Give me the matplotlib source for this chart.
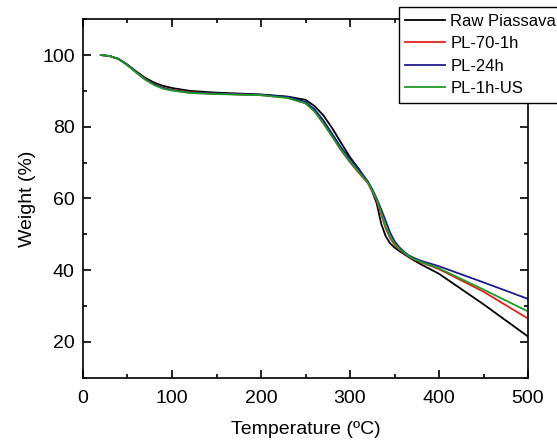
import numpy as np
import matplotlib.pyplot as plt

plt.rcParams['font.family'] = ['Liberation Sans', 'DejaVu Sans']

# TGA curves
temp = [20, 30, 40, 50, 60, 70, 80, 90, 100, 120, 150, 200, 230, 250, 260, 270, 280,
        290, 300, 310, 320, 325, 330, 335, 340, 345, 350, 355, 360, 365, 370, 380,
        400, 450, 500]

raw = [100, 99.7, 98.9, 97.3, 95.4, 93.6, 92.3, 91.4, 90.8, 90.0, 89.5, 89.0, 88.4, 87.5, 85.8,
       83.2, 79.6, 75.5, 71.5, 68.2, 64.5, 62.0, 58.6, 53.0, 49.5, 47.5, 46.3, 45.4, 44.6,
       43.8, 43.0, 41.6, 39.0, 30.5, 21.5]
pl70 = [100, 99.7, 98.9, 97.2, 95.2, 93.3, 91.9, 90.9, 90.3, 89.6, 89.2, 88.8, 88.1, 86.6, 84.4,
        81.1, 77.4, 73.4, 70.1, 67.1, 64.3, 62.1, 59.4, 55.6, 51.7, 48.9, 47.1, 45.9, 44.9,
        44.0, 43.2, 42.2, 40.3, 34.0, 26.5]
pl24 = [100, 99.7, 98.9, 97.2, 95.1, 93.2, 91.8, 90.8, 90.2, 89.5, 89.2, 88.9, 88.3, 86.9, 84.9,
        81.8, 78.0, 74.2, 71.0, 68.0, 64.8, 62.6, 60.0, 57.0, 53.8, 50.5, 48.1, 46.5, 45.3,
        44.3, 43.6, 42.6, 41.1, 36.6, 32.0]
pl1us = [100, 99.7, 98.9, 97.1, 95.1, 93.1, 91.6, 90.6, 90.1, 89.4, 89.1, 88.8, 88.0, 86.5, 84.3,
         80.9, 77.2, 73.5, 70.3, 67.3, 64.5, 62.3, 59.7, 56.1, 52.2, 49.3, 47.4, 46.1, 45.0,
         44.1, 43.3, 42.3, 40.5, 34.6, 28.5]

labels = ['Raw Piassava', 'PL-70-1h', 'PL-24h', 'PL-1h-US']
colors = ['#000000', '#e0201c', '#1c1c8c', '#1e9a2a']

fig = plt.figure(figsize=(5.57, 4.45), dpi=100)
ax = fig.add_axes([0.149, 0.151, 0.799, 0.806])

for y, lab, c in zip([raw, pl70, pl24, pl1us], labels, colors):
    ax.plot(temp, y, color=c, lw=1.3, label=lab)

ax.set_xlim(0, 500)
ax.set_ylim(10, 110)
ax.set_xticks([0, 100, 200, 300, 400, 500])
ax.set_xticks([50, 150, 250, 350, 450], minor=True)
ax.set_yticks([20, 40, 60, 80, 100])
ax.set_yticks([10, 30, 50, 70, 90, 110], minor=True)
ax.tick_params(which='both', direction='in', top=True, right=True, labelsize=14, width=1.2)
ax.tick_params(which='major', length=6)
ax.tick_params(axis='x', which='major', pad=9)
ax.tick_params(axis='y', which='major', pad=6)
ax.tick_params(which='minor', length=3)
for s in ax.spines.values():
    s.set_linewidth(1.2)

ax.set_xlabel('Temperature (ºC)', fontsize=14, labelpad=10)
ax.set_ylabel('Weight (%)', fontsize=14, labelpad=4)

leg = ax.legend(loc='upper left', bbox_to_anchor=(0.716, 0.984), bbox_transform=fig.transFigure,
                fontsize=12, frameon=True, fancybox=False, framealpha=1, edgecolor='black',
                handlelength=2.4, labelspacing=0.45, borderpad=0.4, handletextpad=0.3,
                borderaxespad=0)
leg.get_frame().set_linewidth(1.0)

fig.savefig('out.png', dpi=100)
